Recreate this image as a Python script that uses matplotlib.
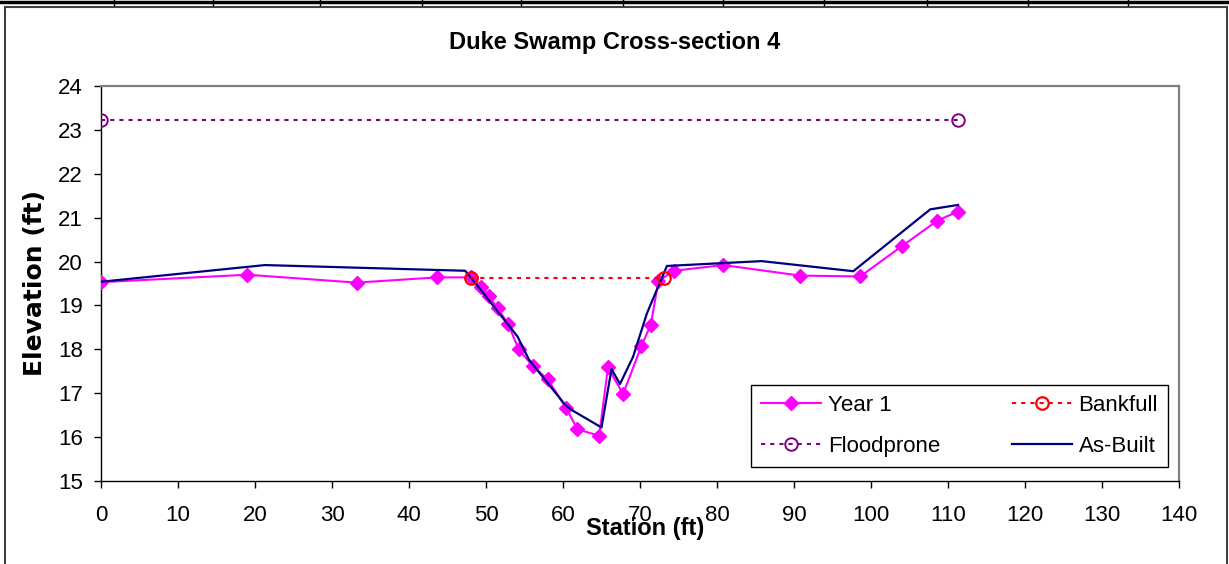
"""Duke Swamp cross-section 4: Year 1 survey vs as-built, with bankfull and floodprone levels."""
import matplotlib
matplotlib.use("Agg")
import matplotlib.pyplot as plt
from matplotlib.lines import Line2D
from matplotlib.patches import Rectangle

plt.rcParams["font.family"] = ["Liberation Sans", "DejaVu Sans"]

# survey data (station ft, elevation ft)
year1_x = [0, 19.0, 33.2, 43.7, 48.0, 49.4, 50.35, 51.5, 52.86, 54.25, 56.06, 58.0,
           60.4, 61.86, 64.7, 65.84, 67.8, 70.17, 71.4, 72.4, 74.4, 80.8, 90.8,
           98.6, 104.0, 108.6, 111.3]
year1_y = [19.53, 19.70, 19.52, 19.64, 19.64, 19.41, 19.22, 18.94, 18.58, 18.0, 17.62,
           17.32, 16.67, 16.18, 16.03, 17.59, 16.98, 18.07, 18.56, 19.56, 19.79, 19.92,
           19.68, 19.66, 20.35, 20.93, 21.14]

asbuilt_x = [0, 21.3, 47.3, 48.3, 54.1, 55.6, 60.3, 61.1, 65.0, 66.3, 67.4, 69.1,
             70.9, 73.5, 85.8, 97.7, 107.7, 111.3]
asbuilt_y = [19.54, 19.92, 19.79, 19.58, 18.29, 17.76, 16.73, 16.62, 16.22, 17.55,
             17.21, 17.83, 18.82, 19.9, 20.01, 19.78, 21.19, 21.29]

bankfull_x = [48.0, 73.1]
bankfull_y = [19.63, 19.63]

floodprone_x = [0, 111.3]
floodprone_y = [23.23, 23.23]

xticks = list(range(0, 141, 10))
yticks = list(range(15, 25))

fig = plt.figure(figsize=(12.29, 5.64), dpi=100)
ax = fig.add_axes([101 / 1229, 1 - 481 / 564, 1078 / 1229, 395 / 564])

dots = (0, (2, 2.4))
year1, = ax.plot(year1_x, year1_y, color="#FF00FF", lw=1.5, marker="D", ms=7.5,
                 label="Year 1", zorder=3)
asbuilt, = ax.plot(asbuilt_x, asbuilt_y, color="#000080", lw=1.6, label="As-Built", zorder=4)
bankfull, = ax.plot(bankfull_x, bankfull_y, color="#FF0000", lw=1.5, ls=dots, marker="o",
                    ms=9, mfc="none", mew=1.6, label="Bankfull", zorder=5)
flood, = ax.plot(floodprone_x, floodprone_y, color="#800080", lw=1.5, ls=dots, marker="o",
                 ms=9, mfc="none", mew=1.4, label="Floodprone", zorder=5)

ax.set_xlim(0, 140)
ax.set_ylim(15, 24)
ax.set_xticks(xticks)
ax.set_yticks(yticks)
ax.tick_params(axis="both", direction="out", length=5, width=1, labelsize=16, color="black")
ax.tick_params(axis="x", pad=12)
ax.tick_params(axis="y", pad=8)
for side in ("top", "right"):
    ax.spines[side].set_color("#808080")
    ax.spines[side].set_linewidth(1.6)
for side in ("left", "bottom"):
    ax.spines[side].set_color("black")
    ax.spines[side].set_linewidth(1.0)

fig.text(615 / 1229, 1 - 42 / 564, "Duke Swamp Cross-section 4", ha="center", va="center",
         fontsize=17, fontweight="bold")
fig.text(645 / 1229, 1 - 528 / 564, "Station (ft)", ha="center", va="center",
         fontsize=17, fontweight="bold")
fig.text(35 / 1229, 1 - 283 / 564, "Elevation (ft)", ha="center", va="center",
         fontsize=18, fontweight="bold", rotation=90, family="DejaVu Sans")

leg = ax.legend(handles=[year1, flood, bankfull, asbuilt], ncol=2, loc="lower left",
                bbox_to_anchor=(650 / 1078, 14 / 395, 417 / 1078, 83 / 395), mode="expand",
                borderaxespad=0, fontsize=16, frameon=True, fancybox=False, shadow=False,
                framealpha=1, handlelength=2.7, handletextpad=0.3, columnspacing=1.6,
                labelspacing=0.9, borderpad=0.45)
leg.get_frame().set_edgecolor("black")
leg.get_frame().set_linewidth(1.0)

# chart border and the spreadsheet row above it
fig.patches.append(Rectangle((5 / 1229, -0.02), 1222 / 1229, 1.02 - 7 / 564,
                             transform=fig.transFigure, fill=False, edgecolor="#404040",
                             lw=1.5))
fig.add_artist(Line2D([0, 1], [1 - 1.5 / 564, 1 - 1.5 / 564], transform=fig.transFigure,
                      color="black", lw=2.5))
for px in [114, 213, 320, 422, 521, 623, 723, 824, 927, 1028, 1128]:
    fig.add_artist(Line2D([px / 1229, px / 1229], [1, 1 - 5 / 564], transform=fig.transFigure,
                          color="black", lw=1))

fig.savefig("out.png", dpi=100)
